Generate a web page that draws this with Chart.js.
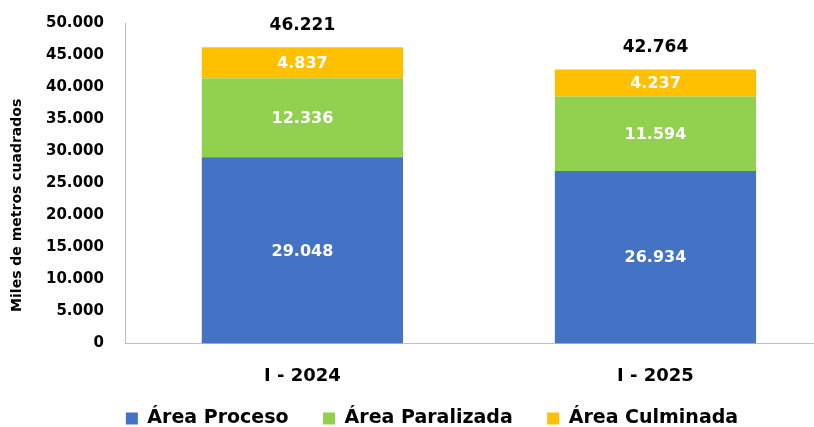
<!DOCTYPE html>
<html><head><meta charset="utf-8">
<script src="https://cdn.jsdelivr.net/npm/chart.js@4/dist/chart.umd.min.js"></script>
<style>
html,body{margin:0;padding:0;background:#fff;overflow:hidden;}
#wrap{width:832px;height:427px;}
</style></head>
<body><div id="wrap"><canvas id="c" width="832" height="427"></canvas></div>
<script>
const categories = ['I - 2024', 'I - 2025'];
const areaProceso = [29048, 26934];
const areaParalizada = [12336, 11594];
const areaCulminada = [4837, 4237];
const totals = [46221, 42764];
const seriesNames = ['Área Proceso', 'Área Paralizada', 'Área Culminada'];
const yTicks = [0, 5000, 10000, 15000, 20000, 25000, 30000, 35000, 40000, 45000, 50000];
const yTitle = 'Miles de metros cuadrados';

const FONT = "'DejaVu Sans', sans-serif";
function fmt(v){ return String(v).replace(/\B(?=(\d{3})+(?!\d))/g, '.'); }

const labelPlugin = {
  id: 'labels',
  afterDatasetsDraw(chart){
    const ctx = chart.ctx;
    ctx.save();
    ctx.textAlign = 'center';
    ctx.textBaseline = 'middle';
    chart.data.datasets.forEach((ds, di) => {
      const meta = chart.getDatasetMeta(di);
      meta.data.forEach((bar, i) => {
        const y = (bar.y + bar.base) / 2;
        ctx.fillStyle = '#ffffff';
        ctx.font = 'bold 16px ' + FONT;
        ctx.fillText(fmt(ds.data[i]), bar.x, y + 1);
      });
    });
    const top = chart.getDatasetMeta(chart.data.datasets.length - 1);
    top.data.forEach((bar, i) => {
      ctx.fillStyle = '#000000';
      ctx.font = 'bold 17px ' + FONT;
      ctx.fillText(fmt(totals[i]), bar.x, chart.scales.y.getPixelForValue(totals[i]) - 22);
    });
    const ca = chart.chartArea;
    ctx.translate(17, (ca.top + ca.bottom) / 2 + 22);
    ctx.rotate(-Math.PI / 2);
    ctx.fillStyle = '#000';
    ctx.font = 'bold 14px ' + FONT;
    ctx.fillText(yTitle, 0, 0);
    ctx.restore();
  }
};

new Chart(document.getElementById('c'), {
  type: 'bar',
  data: {
    labels: categories,
    datasets: [
      { label: seriesNames[0], data: areaProceso, backgroundColor: '#4472C4' },
      { label: seriesNames[1], data: areaParalizada, backgroundColor: '#92D050' },
      { label: seriesNames[2], data: areaCulminada, backgroundColor: '#FFC000' }
    ]
  },
  options: {
    responsive: false,
    animation: false,
    devicePixelRatio: 1,
    layout: { padding: { top: 12, left: 32, right: 0, bottom: -11 } },
    datasets: { bar: { barPercentage: 0.57, categoryPercentage: 1 } },
    plugins: {
      tooltip: { enabled: false },
      legend: {
        position: 'bottom',
        labels: {
          font: { family: FONT, size: 19, weight: 'bold', lineHeight: 1 },
          color: '#000',
          boxWidth: 12, boxHeight: 12,
          padding: 8,
          generateLabels(chart){
            const items = Chart.defaults.plugins.legend.labels.generateLabels(chart);
            items.forEach((it, i) => { if (i < items.length - 1) it.text = it.text + '    '; });
            return items;
          }
        }
      }
    },
    scales: {
      x: {
        stacked: true,
        grid: { display: false },
        border: { display: true, color: '#bfbfbf' },
        ticks: { color: '#000', font: { family: FONT, size: 18, weight: 'bold', lineHeight: 0.3 }, padding: 22 }
      },
      y: {
        stacked: true,
        min: 0, max: 50000,
        afterBuildTicks(scale){ scale.ticks = yTicks.map(v => ({ value: v })); },
        grid: { display: false },
        border: { display: true, color: '#bfbfbf' },
        ticks: { color: '#000', font: { family: FONT, size: 15, weight: 'bold' }, padding: 14, callback: v => fmt(v) }
      }
    }
  },
  plugins: [labelPlugin]
});
</script></body></html>
